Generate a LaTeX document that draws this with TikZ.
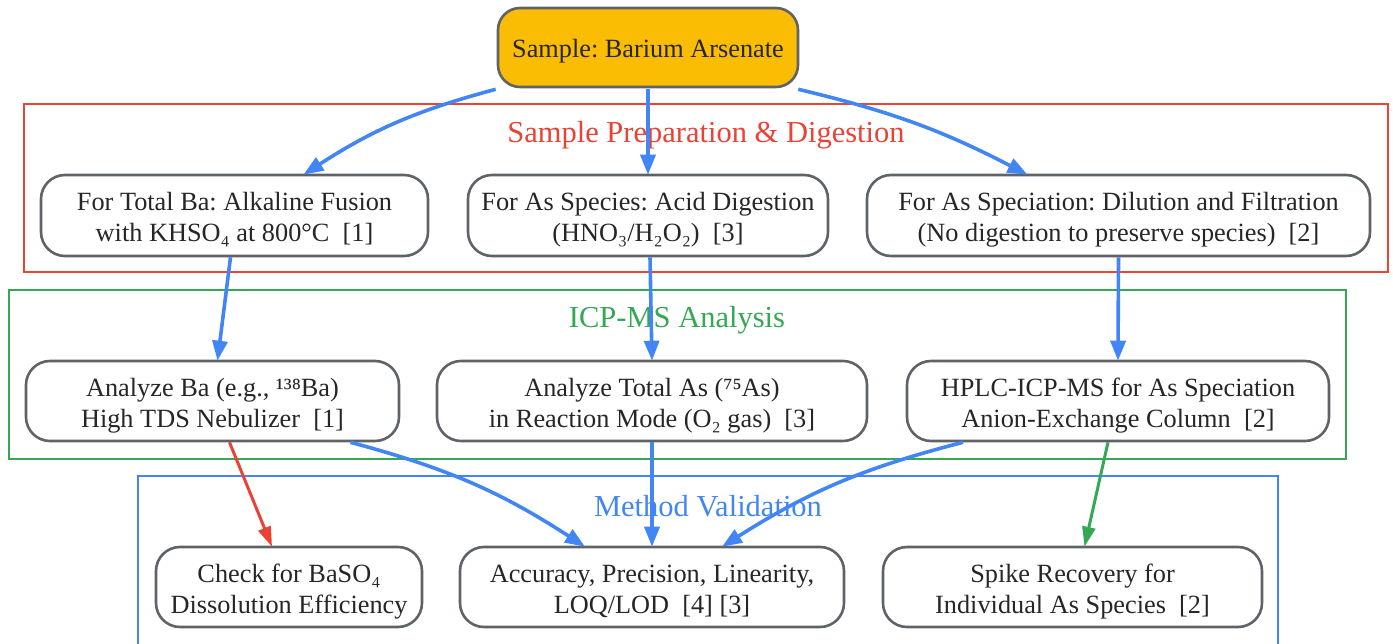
\documentclass[tikz,border=0pt]{standalone}
\usepackage{fontspec}
\setmainfont{Liberation Serif}
\usetikzlibrary{arrows.meta,calc}
\definecolor{gblue}{HTML}{4285F4}
\definecolor{gred}{HTML}{EA4335}
\definecolor{ggreen}{HTML}{34A853}
\definecolor{gyellow}{HTML}{FBBC04}
\definecolor{bordergray}{HTML}{5F6368}
\definecolor{txt}{HTML}{262626}
\frenchspacing
\tikzset{
  basebox/.style={draw=bordergray, line width=2.6pt, rounded corners=24pt, fill=white,
    align=center, inner sep=0pt, text=txt,
    font=\fontsize{26.3}{31}\selectfont\frenchspacing},
  box/.style={basebox, execute at begin node={\rule{0pt}{58pt}}},
  onebox/.style={basebox, execute at begin node={\rule{0pt}{25pt}}},
  cluster/.style={line width=1.8pt},
  clabel/.style={font=\fontsize{30.5}{36}\selectfont, inner sep=0pt},
  flow/.style={line width=3.6pt, draw=gblue, -{Triangle[length=20pt,width=15pt]}},
  thinflow/.style={line width=3pt, -{Triangle[length=20pt,width=13pt]}},
}
\begin{document}
\begin{tikzpicture}[x=1pt,y=-1pt]
\useasboundingbox (0,0) rectangle (1393,644);
% clusters
\draw[cluster, draw=gred] (24,104) rectangle (1388,272);
\draw[cluster, draw=ggreen] (9,290) rectangle (1346,459);
\draw[cluster, draw=gblue] (138,476) rectangle (1278,644.5);
\node[clabel, text=gred] (lprep) at (706,135.5) {Sample Preparation \& Digestion};
\node[clabel, text=ggreen] (licp) at (677,320.5) {ICP-MS Analysis};
\node[clabel, text=gblue] (lval) at (708,506.5) {Method Validation};
% nodes
\node[onebox, fill=gyellow, rounded corners=22pt, minimum width=300pt, minimum height=79pt] (s) at (648,47.5) {Sample: Barium Arsenate};
\node[box, minimum width=387pt, minimum height=81pt] (p1) at (234.5,215.5) {For Total Ba: Alkaline Fusion\\with KHSO₄ at 800°C\ \ [1]};
\node[box, minimum width=360pt, minimum height=81pt] (p2) at (648,215.5) {For As Species: Acid Digestion\\(HNO₃/H₂O₂)\ \ [3]};
\node[box, minimum width=503pt, minimum height=81pt] (p3) at (1118.5,215.5) {For As Speciation: Dilution and Filtration\\(No digestion to preserve species)\ \ [2]};
\node[box, minimum width=373pt, minimum height=80pt] (a1) at (212.5,401) {Analyze Ba (e.g., ¹³⁸Ba)\\High TDS Nebulizer\ \ [1]};
\node[box, minimum width=430pt, minimum height=80pt] (a2) at (652,401) {Analyze Total As (⁷⁵As)\\in Reaction Mode (O₂ gas)\ \ [3]};
\node[box, minimum width=422pt, minimum height=80pt] (a3) at (1118,401) {HPLC-ICP-MS for As Speciation\\Anion-Exchange Column\ \ [2]};
\node[box, minimum width=266pt, minimum height=80pt] (v1) at (289,587) {Check for BaSO₄\\Dissolution Efficiency};
\node[box, minimum width=384pt, minimum height=80pt] (v2) at (652,587) {Accuracy, Precision, Linearity,\\LOQ/LOD\ \ [4] [3]};
\node[box, minimum width=379pt, minimum height=80pt] (v3) at (1072.5,587) {Spike Recovery for\\Individual As Species\ \ [2]};
% edges
\draw[flow] ([xshift=-1pt,yshift=-1pt]s.south west) to[bend right=9] ([xshift=69pt,yshift=-1pt]p1.north);
\draw[flow] ([yshift=-1pt]s.south) -- ([yshift=-1pt]p2.north);
\draw[flow] ([xshift=-1pt,yshift=-1pt]s.south east) to[bend left=7] ([xshift=-91pt,yshift=-1pt]p3.north);
\draw[flow] ([xshift=-4pt]p1.south) -- ([xshift=5pt,yshift=-1pt]a1.north);
\draw[flow] ([xshift=2pt]p2.south) -- ([yshift=-1pt]a2.north);
\draw[flow] (p3.south) -- ([yshift=-1pt]a3.north);
\draw[thinflow, draw=gred, fill=gred] ([xshift=17pt]a1.south) -- ([xshift=-17pt,yshift=-1pt]v1.north);
\draw[flow] ([xshift=138pt]a1.south) to[bend left=9] ([xshift=-67pt,yshift=-1pt]v2.north);
\draw[flow] (a2.south) -- ([yshift=-1pt]v2.north);
\draw[flow] ([xshift=-155pt]a3.south) to[bend right=9] ([xshift=70pt,yshift=-1pt]v2.north);
\draw[thinflow, draw=ggreen, fill=ggreen] ([xshift=-10pt]a3.south) -- ([xshift=12pt,yshift=-1pt]v3.north);
\end{tikzpicture}
\end{document}
